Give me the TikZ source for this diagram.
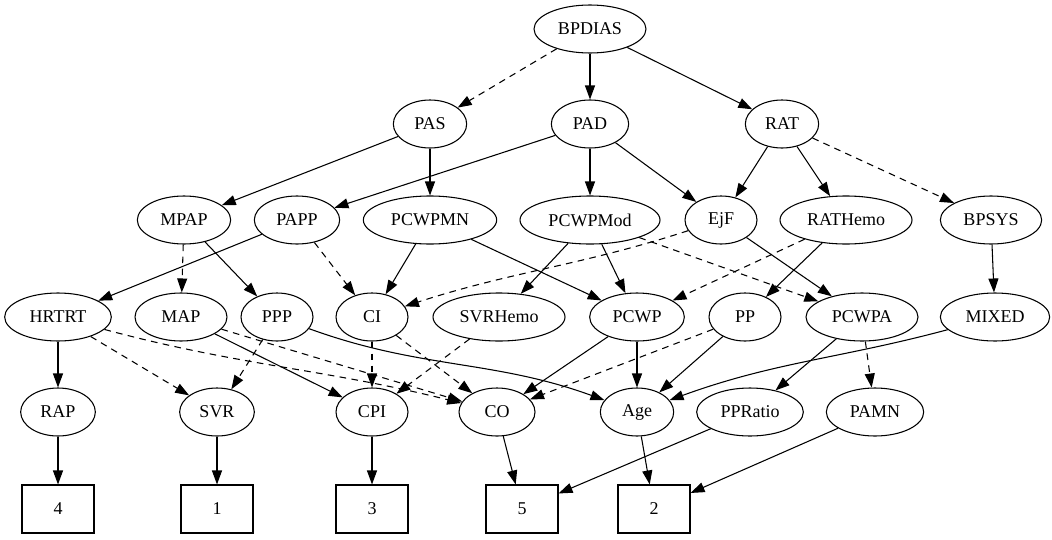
\documentclass[tikz,border=0pt]{standalone}
\usepackage{fontspec}
\setmainfont{Liberation Serif}
\usepackage{tikz}
\usetikzlibrary{arrows.meta,shapes.geometric}

\begin{document}
\begin{tikzpicture}[x=0.75pt,y=-0.75pt,
    every node/.style={font=\fontsize{13.5pt}{16pt}\selectfont},
    var/.style={draw,ellipse,line width=0.8pt,minimum height=36pt,inner sep=0pt},
    leaf/.style={draw,rectangle,line width=0.8pt,minimum width=54pt,minimum height=36pt,inner sep=0pt},
    link/.style={line width=0.8pt,-{Triangle[length=10.5pt,width=7.5pt]}},
    dlink/.style={link,dash pattern=on 5pt off 4pt}]
    \useasboundingbox (0,0) rectangle (1052,539);

    \node[var,minimum width=84pt] (BPDIAS) at (590,29) {BPDIAS};

    \node[var,minimum width=55pt] (PAS) at (430,124) {PAS};
    \node[var,minimum width=58pt] (PAD) at (590,124) {PAD};
    \node[var,minimum width=55pt] (RAT) at (782,124) {RAT};

    \node[var,minimum width=70pt] (MPAP) at (184,220) {MPAP};
    \node[var,minimum width=64pt] (PAPP) at (297,220) {PAPP};
    \node[var,minimum width=100pt] (PCWPMN) at (430,220) {PCWPMN};
    \node[var,minimum width=105pt] (PCWPMod) at (590,220) {PCWPMod};
    \node[var,minimum width=54pt] (EjF) at (721,220) {EjF};
    \node[var,minimum width=99pt] (RATHemo) at (846,220) {RATHemo};
    \node[var,minimum width=76pt] (BPSYS) at (991,220) {BPSYS};

    \node[var,minimum width=80pt] (HRTRT) at (58,317) {HRTRT};
    \node[var,minimum width=69pt] (MAP) at (181,317) {MAP};
    \node[var,minimum width=54pt] (PPP) at (277,317) {PPP};
    \node[var,minimum width=54pt] (CI) at (372,317) {CI};
    \node[var,minimum width=99pt] (SVRHemo) at (499,317) {SVRHemo};
    \node[var,minimum width=71pt] (PCWP) at (637,317) {PCWP};
    \node[var,minimum width=54pt] (PP) at (745,317) {PP};
    \node[var,minimum width=84pt] (PCWPA) at (862,317) {PCWPA};
    \node[var,minimum width=82pt] (MIXED) at (995,317) {MIXED};

    \node[var,minimum width=56pt] (RAP) at (58,412) {RAP};
    \node[var,minimum width=56pt] (SVR) at (217,412) {SVR};
    \node[var,minimum width=54pt] (CPI) at (372,412) {CPI};
    \node[var,minimum width=57pt] (CO) at (497,412) {CO};
    \node[var,minimum width=55pt] (Age) at (637,412) {Age};
    \node[var,minimum width=80pt] (PPRatio) at (750,412) {PPRatio};
    \node[var,minimum width=73pt] (PAMN) at (875,412) {PAMN};

    \node[leaf] (n4) at (58,509) {4};
    \node[leaf] (n1) at (217,509) {1};
    \node[leaf] (n3) at (372,509) {3};
    \node[leaf] (n5) at (522,509) {5};
    \node[leaf] (n2) at (654,509) {2};

    \draw[dlink] (BPDIAS) -- (PAS);
    \draw[link] (BPDIAS) -- (PAD);
    \draw[link] (BPDIAS) -- (RAT);

    \draw[link] (PAS) -- (MPAP);
    \draw[link] (PAS) -- (PCWPMN);
    \draw[link] (PAD) -- (PAPP);
    \draw[link] (PAD) -- (PCWPMod);
    \draw[link] (PAD) -- (EjF);
    \draw[link] (RAT) -- (EjF);
    \draw[link] (RAT) -- (RATHemo);
    \draw[dlink] (RAT) -- (BPSYS);

    \draw[dlink] (MPAP) -- (MAP);
    \draw[link] (MPAP) -- (PPP);
    \draw[link] (PAPP) -- (HRTRT);
    \draw[dlink] (PAPP) -- (CI);
    \draw[link] (PCWPMN) -- (CI);
    \draw[link] (PCWPMN) -- (PCWP);
    \draw[link] (PCWPMod) -- (SVRHemo);
    \draw[link] (PCWPMod) -- (PCWP);
    \draw[dlink] (PCWPMod) -- (PCWPA);
    \draw[dlink] (EjF) to[out=198,in=18] (CI);
    \draw[link] (EjF) -- (PCWPA);
    \draw[dlink] (RATHemo) -- (PCWP);
    \draw[link] (RATHemo) -- (PP);
    \draw[link] (BPSYS) -- (MIXED);

    \draw[link] (HRTRT) -- (RAP);
    \draw[dlink] (HRTRT) -- (SVR);
    \draw[dlink] (HRTRT) to[out=-15,in=166] (CO);
    \draw[link] (MAP) -- (CPI);
    \draw[dlink] (MAP) -- (CO);
    \draw[dlink] (PPP) -- (SVR);
    \draw[link] (PPP) to[out=-20,in=160] (Age);
    \draw[dlink] (CI) -- (CPI);
    \draw[dlink] (CI) -- (CO);
    \draw[dlink] (SVRHemo) -- (CPI);
    \draw[link] (PCWP) -- (CO);
    \draw[link] (PCWP) -- (Age);
    \draw[dlink] (PP) -- (CO);
    \draw[link] (PP) -- (Age);
    \draw[link] (PCWPA) -- (PPRatio);
    \draw[dlink] (PCWPA) -- (PAMN);
    \draw[link] (MIXED) to[out=195,in=20] (Age);

    \draw[link] (RAP) -- (n4);
    \draw[link] (SVR) -- (n1);
    \draw[link] (CPI) -- (n3);
    \draw[link] (CO) -- (n5);
    \draw[link] (Age) -- (n2);
    \draw[link] (PPRatio) -- (n5);
    \draw[link] (PAMN) -- (n2);
\end{tikzpicture}
\end{document}
